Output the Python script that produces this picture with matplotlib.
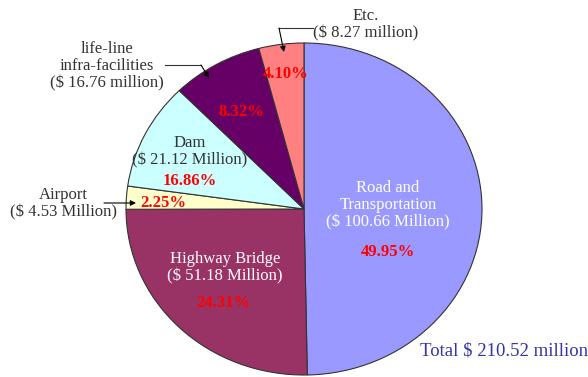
import matplotlib
matplotlib.use("Agg")
import matplotlib.pyplot as plt

# data (in millions of dollars)
categories = ["Road and\nTransportation", "Highway Bridge", "Airport", "Dam",
              "life-line\ninfra-facilities", "Etc."]
amounts = [100.66, 51.18, 4.53, 21.12, 16.76, 8.27]
amount_text = ["($ 100.66 Million)", "($ 51.18 Million)", "($ 4.53 Million)",
               "($ 21.12 Million)", "($ 16.76 million)", "($ 8.27 million)"]
percents = ["49.95%", "24.31%", "2.25%", "16.86%", "8.32%", "4.10%"]
total_label = "Total $ 210.52 million"

colors = ["#9999ff", "#993366", "#ffffcc", "#ccffff", "#660066", "#ff8080"]

plt.rcParams['font.family'] = ['Liberation Serif', 'DejaVu Serif']

W, H = 588, 377
fig = plt.figure(figsize=(W / 100, H / 100), dpi=100)

# pie axes (slightly wider than tall, like the original)
L, R, T, B = 126, 482, 43, 375
pax = fig.add_axes([L / W, (H - B) / H, (R - L) / W, (B - T) / H])
pax.pie(amounts, colors=colors, startangle=90, counterclock=False,
        wedgeprops=dict(edgecolor="#333333", linewidth=0.8))
pax.set_aspect('auto')
pax.set_xlim(-1, 1)
pax.set_ylim(-1, 1)
pax.axis('off')

# overlay axes in pixel coordinates for text
ax = fig.add_axes([0, 0, 1, 1], zorder=5)
ax.set_xlim(0, W)
ax.set_ylim(H, 0)
ax.axis('off')

fs = 12
ls = 1.1
red = "#ff0000"
dark = "#333333"

# inside labels
ax.text(388, 205, categories[0] + "\n" + amount_text[0], color="white",
        ha="center", va="center", fontsize=fs, linespacing=ls)
ax.text(388, 252, percents[0], color=red, ha="center", va="center",
        fontsize=fs, fontweight="bold")

ax.text(225, 268, categories[1] + "\n" + amount_text[1], color="white",
        ha="center", va="center", fontsize=fs, linespacing=ls)
ax.text(223, 303, percents[1], color=red, ha="center", va="center",
        fontsize=fs, fontweight="bold")

ax.text(190, 152, categories[3] + "\n" + amount_text[3], color=dark,
        ha="center", va="center", fontsize=fs, linespacing=ls)
ax.text(190, 181, percents[3], color=red, ha="center", va="center",
        fontsize=fs, fontweight="bold")

ax.text(163, 203, percents[2], color=red, ha="center", va="center",
        fontsize=fs, fontweight="bold")
ax.text(241, 112, percents[4], color=red, ha="center", va="center",
        fontsize=fs, fontweight="bold")
ax.text(286, 74, percents[5], color=red, ha="center", va="center",
        fontsize=fs, fontweight="bold")

# outside labels with leader arrows
ax.text(107, 66, categories[4] + "\n" + amount_text[4], color=dark,
        ha="center", va="center", fontsize=fs, linespacing=ls)
ax.plot([165, 201], [65, 65], color=dark, lw=0.8)
ax.annotate("", xy=(209, 78), xytext=(201, 65),
            arrowprops=dict(arrowstyle="-|>", color="black", lw=0.8,
                            mutation_scale=8, shrinkA=0, shrinkB=0))

ax.text(366, 25, categories[5] + "\n" + amount_text[5], color=dark,
        ha="center", va="center", fontsize=fs, linespacing=ls)
ax.plot([313, 279], [28, 28], color=dark, lw=0.8)
ax.annotate("", xy=(284, 52), xytext=(279, 28),
            arrowprops=dict(arrowstyle="-|>", color="black", lw=0.8,
                            mutation_scale=8, shrinkA=0, shrinkB=0))

ax.text(63, 204, categories[2] + "\n" + amount_text[2], color=dark,
        ha="center", va="center", fontsize=fs, linespacing=ls)
ax.annotate("", xy=(136, 203), xytext=(104, 203),
            arrowprops=dict(arrowstyle="-|>", color="black", lw=0.8,
                            mutation_scale=8, shrinkA=0, shrinkB=0))

ax.text(420, 351, total_label, color="#3333aa", ha="left", va="center",
        fontsize=13.5)

fig.savefig("out.png", dpi=100)
